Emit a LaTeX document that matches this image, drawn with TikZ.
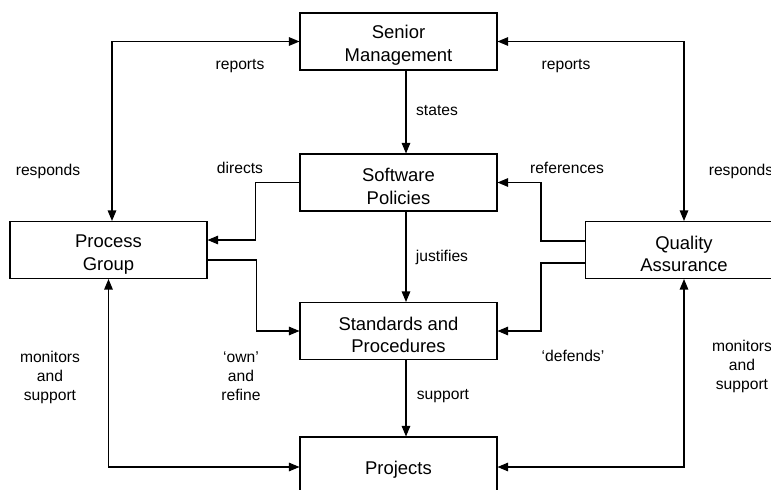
\documentclass[tikz,border=0pt]{standalone}
\usepackage{fontspec}
\setmainfont{Liberation Sans}
\usetikzlibrary{arrows.meta}
\tikzset{
	box/.style={draw,line width=0.6pt,minimum width=3.94cm,minimum height=1.14cm,inner sep=0pt,align=center,font=\fontsize{10.5}{13}\selectfont,execute at begin node={\rule{0pt}{25pt}}},
	onebox/.style={draw,line width=0.6pt,minimum width=3.94cm,minimum height=1.14cm,inner sep=0pt,font=\fontsize{10.5}{13}\selectfont,execute at begin node={\rule{0pt}{12pt}}},
	lbl/.style={align=center,inner sep=0pt,font=\fontsize{8.9}{10.8}\selectfont},
	arr/.style={line width=0.6pt,-{Triangle[length=0.21cm,width=0.17cm]}},
	arrtwo/.style={line width=0.6pt,{Triangle[length=0.21cm,width=0.17cm]}-{Triangle[length=0.21cm,width=0.17cm]}}
}
\begin{document}
\begin{tikzpicture}[x=0.02cm,y=-0.02cm]
	\useasboundingbox (0,0) rectangle (771,490);

	\node[box] (sm) at (398.5,41.5) {Senior\\Management};
	\node[box] (sp) at (398.5,182.5) {Software\\Policies};
	\node[box] (pg) at (108.5,250) {Process\\Group};
	\node[box] (qa) at (684,250) {Quality\\Assurance};
	\node[box] (sap) at (398.5,331) {Standards and\\Procedures};
	\node[onebox] (proj) at (398.5,465.5) {Projects};

	% polaczenia
	\draw[arrtwo] (sm.west) -| ([xshift=0.07cm]pg.north);
	\draw[arrtwo] (sm.east) -| (qa.north);
	\draw[arr] ([xshift=0.15cm]sm.south) -- ([xshift=0.15cm]sp.north);
	\draw[arr] (sp.west) -- ++(-44,0) |- ([yshift=0.2cm]pg.east);
	\draw[arr] ([yshift=-0.2cm]pg.east) -- ++(49,0) |- (sap.west);
	\draw[arr] ([xshift=0.15cm]sp.south) -- ([xshift=0.15cm]sap.north);
	\draw[arr] ([yshift=0.18cm]qa.west) -- ++(-44,0) |- (sp.east);
	\draw[arr] ([yshift=-0.26cm]qa.west) -- ++(-44,0) |- (sap.east);
	\draw[arr] ([xshift=0.15cm]sap.south) -- ([xshift=0.15cm]proj.north);
	\draw[arrtwo] (pg.south) |- ([yshift=-0.03cm]proj.west);
	\draw[arrtwo] (qa.south) |- ([yshift=-0.03cm]proj.east);

	% opisy
	\node[lbl] (reportsl) at (240,66) {reports};
	\node[lbl] (reportsr) at (566,66) {reports};
	\node[lbl] (respondsl) at (48,171) {responds};
	\node[lbl] (respondsr) at (741,171) {responds};
	\node[lbl] (states) at (437,111) {states};
	\node[lbl] (directs) at (240,168) {directs};
	\node[lbl] (references) at (567,168) {references};
	\node[lbl] (justifies) at (442,257) {justifies};
	\node[lbl] (own) at (241,376) {‘own’\\and\\refine};
	\node[lbl] (defends) at (573,356) {‘defends’};
	\node[lbl] (support) at (443,396) {support};
	\node[lbl] (monl) at (50,377) {monitors\\and\\support};
	\node[lbl] (monr) at (742,366) {monitors\\and\\support};
\end{tikzpicture}
\end{document}
